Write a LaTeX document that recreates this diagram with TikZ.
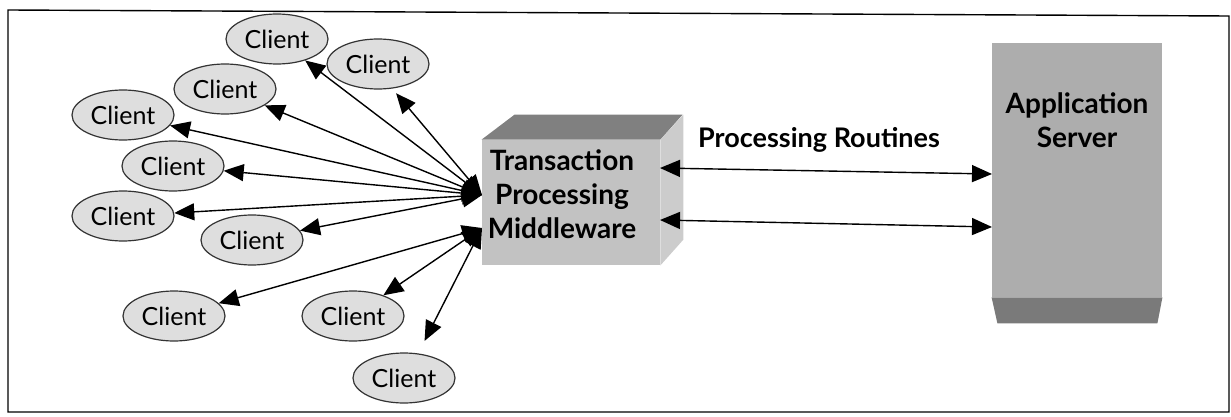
\documentclass[tikz,border=0pt]{standalone}
\usepackage{fontspec}
\setmainfont{Lato}
\usetikzlibrary{shapes.geometric,arrows.meta,positioning}

\begin{document}
\begin{tikzpicture}[x=0.5pt,y=-0.5pt,
  >={Triangle[length=10pt,width=8.5pt]},
  client/.style={ellipse,draw=black!80,fill=black!13,line width=0.6pt,
                 minimum width=51pt,minimum height=25pt,inner sep=0pt,
                 font=\fontsize{12.5}{14}\selectfont},
  link/.style={<->,line width=0.7pt},
  boxtext/.style={align=center,inner sep=0pt,font=\fontsize{14}{17}\selectfont\bfseries},
  every node/.style={inner sep=2pt}]
  \useasboundingbox (0,0) rectangle (1231,417);
  \draw[line width=0.7pt] (8,10) -- (1229,16) -- (1229,412) -- (8,412) -- cycle;
  %  -- - middleware block  -- -
  \node[fill=black!24,minimum width=89pt,minimum height=62.5pt,inner sep=0pt] (mw) at (571,202.5) {};
  \fill[black!50] (mw.north west) -- ++(33,-25) -- ++(168,0) -- (mw.north east) -- cycle;
  \fill[black!20] (mw.north east) -- ++(23,-25) -- ++(0,125) -- (mw.south east) -- cycle;
  \node[boxtext] (mwtext) at (562,194) {Transaction\\Processing\\Middleware};
  %  -- - application server  -- -
  \node[fill=black!32,minimum width=85pt,minimum height=127pt,inner sep=0pt] (srv) at (1077,170) {};
  \fill[black!52] (srv.south west) -- (srv.south east) -- ++(-5,26) -- ++(-160,0) -- cycle;
  \node[boxtext] (srvtext) at (1077,120) {Application\\Server};
  %  -- - routines between the two  -- -
  \node[font=\fontsize{13.5}{16}\selectfont\bfseries] (proc) at (819,140) {Processing Routines};
  \coordinate (mwU) at (660,168); \coordinate (srvU) at (992,174);
  \coordinate (mwL) at (660,220); \coordinate (srvL) at (992,227);
  \draw[link] (mwU) -- (srvU); \draw[link] (mwL) -- (srvL);
  %  -- - clients  -- -
  \node[client] (c1) at (277,39) {Client};
  \node[client] (c2) at (378,64) {Client};
  \node[client] (c3) at (225,89) {Client};
  \node[client] (c4) at (123,115) {Client};
  \node[client] (c5) at (173,166) {Client};
  \node[client] (c6) at (123,216) {Client};
  \node[client] (c7) at (252,240) {Client};
  \node[client] (c8) at (174,316) {Client};
  \node[client] (c9) at (353,316) {Client};
  \node[client] (c10) at (404,378) {Client};
  %  -- - fan of links into the middleware  -- -
  \coordinate (hubU) at (482,195); \coordinate (hubL) at (482,228);
  \draw[link] (hubU) -- (c1); \draw[link,shorten >=3pt] (hubU) -- (c2.-60);
  \draw[link] (hubU) -- (c3); \draw[link] (hubU) -- (c4);
  \draw[link] (hubU) -- (c5); \draw[link] (hubU) -- (c6);
  \draw[link] (hubU) -- (c7);
  \draw[link] (hubL) -- (c8); \draw[link] (hubL) -- (c9);
  \draw[link,shorten >=7pt] (hubL) -- (c10.60);
\end{tikzpicture}
\end{document}
